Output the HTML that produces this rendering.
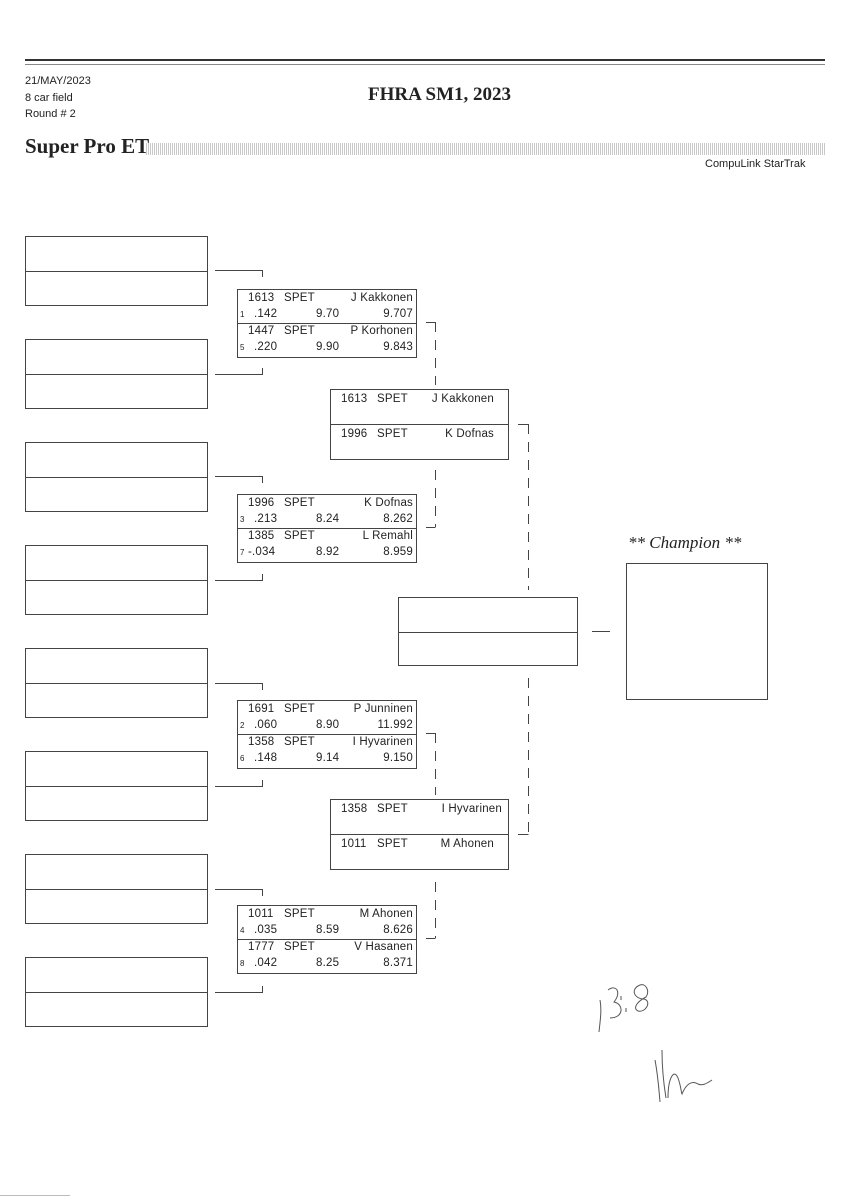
<!DOCTYPE html>
<html><head><meta charset="utf-8"><style>
body{margin:0;background:#fff;}
#p{position:relative;width:848px;height:1200px;overflow:hidden;background:#fff;font-family:"Liberation Sans",sans-serif;color:#222;}
.a{position:absolute;}
.bx{position:absolute;border:1px solid #444;box-sizing:border-box;}
.dv{position:absolute;left:0;right:0;border-top:1px solid #444;}
.r{position:absolute;font-size:11.5px;line-height:16px;white-space:nowrap;letter-spacing:0.2px;}
.s{position:absolute;font-size:8px;line-height:16px;}
</style></head><body><div id="p">
<div class="a" style="left:25px;top:59px;width:800px;height:2px;background:#333;"></div>
<div class="a" style="left:25px;top:64px;width:800px;height:1px;background:#888;"></div>
<div class="a" style="left:25px;top:73px;font-size:11px;line-height:16.5px;">21/MAY/2023<br>8 car field<br>Round # 2</div>
<div class="a" style="left:368px;top:84px;font:bold 19px 'Liberation Serif',serif;">FHRA SM1, 2023</div>
<div class="a" style="left:25px;top:134px;font:bold 21px 'Liberation Serif',serif;">Super Pro ET</div>
<div class="a" style="left:146px;top:143px;width:679px;height:12px;background:repeating-linear-gradient(90deg,#bbb 0 1px,#fff 1px 2px);opacity:0.8;"></div>
<div class="a" style="left:705px;top:158px;font-size:11px;">CompuLink StarTrak</div>

<!-- left boxes -->
<div class="bx" style="left:25px;top:236px;width:183px;height:70px;"><div class="dv" style="top:34px"></div></div>
<div class="bx" style="left:25px;top:339px;width:183px;height:70px;"><div class="dv" style="top:34px"></div></div>
<div class="bx" style="left:25px;top:442px;width:183px;height:70px;"><div class="dv" style="top:34px"></div></div>
<div class="bx" style="left:25px;top:545px;width:183px;height:70px;"><div class="dv" style="top:34px"></div></div>
<div class="bx" style="left:25px;top:648px;width:183px;height:70px;"><div class="dv" style="top:34px"></div></div>
<div class="bx" style="left:25px;top:751px;width:183px;height:70px;"><div class="dv" style="top:34px"></div></div>
<div class="bx" style="left:25px;top:854px;width:183px;height:70px;"><div class="dv" style="top:34px"></div></div>
<div class="bx" style="left:25px;top:957px;width:183px;height:70px;"><div class="dv" style="top:34px"></div></div>

<!-- R1 boxes -->
<div class="bx" style="left:237px;top:289px;width:180px;height:69px;"><div class="dv" style="top:33px"></div>
<span class="r" style="left:10px;top:0">1613</span><span class="r" style="left:46px;top:0">SPET</span><span class="r" style="right:3px;top:0">J Kakkonen</span>
<span class="s" style="left:2px;top:17px">1</span><span class="r" style="left:16px;top:16px">.142</span><span class="r" style="left:78px;top:16px">9.70</span><span class="r" style="right:3px;top:16px">9.707</span>
<span class="r" style="left:10px;top:33px">1447</span><span class="r" style="left:46px;top:33px">SPET</span><span class="r" style="right:3px;top:33px">P Korhonen</span>
<span class="s" style="left:2px;top:50px">5</span><span class="r" style="left:16px;top:49px">.220</span><span class="r" style="left:78px;top:49px">9.90</span><span class="r" style="right:3px;top:49px">9.843</span></div>

<div class="bx" style="left:237px;top:494px;width:180px;height:69px;"><div class="dv" style="top:33px"></div>
<span class="r" style="left:10px;top:0">1996</span><span class="r" style="left:46px;top:0">SPET</span><span class="r" style="right:3px;top:0">K Dofnas</span>
<span class="s" style="left:2px;top:17px">3</span><span class="r" style="left:16px;top:16px">.213</span><span class="r" style="left:78px;top:16px">8.24</span><span class="r" style="right:3px;top:16px">8.262</span>
<span class="r" style="left:10px;top:33px">1385</span><span class="r" style="left:46px;top:33px">SPET</span><span class="r" style="right:3px;top:33px">L Remahl</span>
<span class="s" style="left:2px;top:50px">7</span><span class="r" style="left:10px;top:49px">-.034</span><span class="r" style="left:78px;top:49px">8.92</span><span class="r" style="right:3px;top:49px">8.959</span></div>

<div class="bx" style="left:237px;top:700px;width:180px;height:69px;"><div class="dv" style="top:33px"></div>
<span class="r" style="left:10px;top:0">1691</span><span class="r" style="left:46px;top:0">SPET</span><span class="r" style="right:3px;top:0">P Junninen</span>
<span class="s" style="left:2px;top:17px">2</span><span class="r" style="left:16px;top:16px">.060</span><span class="r" style="left:78px;top:16px">8.90</span><span class="r" style="right:3px;top:16px">11.992</span>
<span class="r" style="left:10px;top:33px">1358</span><span class="r" style="left:46px;top:33px">SPET</span><span class="r" style="right:3px;top:33px">I Hyvarinen</span>
<span class="s" style="left:2px;top:50px">6</span><span class="r" style="left:16px;top:49px">.148</span><span class="r" style="left:78px;top:49px">9.14</span><span class="r" style="right:3px;top:49px">9.150</span></div>

<div class="bx" style="left:237px;top:905px;width:180px;height:69px;"><div class="dv" style="top:33px"></div>
<span class="r" style="left:10px;top:0">1011</span><span class="r" style="left:46px;top:0">SPET</span><span class="r" style="right:3px;top:0">M Ahonen</span>
<span class="s" style="left:2px;top:17px">4</span><span class="r" style="left:16px;top:16px">.035</span><span class="r" style="left:78px;top:16px">8.59</span><span class="r" style="right:3px;top:16px">8.626</span>
<span class="r" style="left:10px;top:33px">1777</span><span class="r" style="left:46px;top:33px">SPET</span><span class="r" style="right:3px;top:33px">V Hasanen</span>
<span class="s" style="left:2px;top:50px">8</span><span class="r" style="left:16px;top:49px">.042</span><span class="r" style="left:78px;top:49px">8.25</span><span class="r" style="right:3px;top:49px">8.371</span></div>

<!-- R2 boxes -->
<div class="bx" style="left:330px;top:389px;width:179px;height:71px;"><div class="dv" style="top:34px"></div>
<span class="r" style="left:10px;top:1px">1613</span><span class="r" style="left:46px;top:1px">SPET</span><span class="r" style="right:14px;top:1px">J Kakkonen</span>
<span class="r" style="left:10px;top:36px">1996</span><span class="r" style="left:46px;top:36px">SPET</span><span class="r" style="right:14px;top:36px">K Dofnas</span></div>
<div class="bx" style="left:330px;top:799px;width:179px;height:71px;"><div class="dv" style="top:34px"></div>
<span class="r" style="left:10px;top:1px">1358</span><span class="r" style="left:46px;top:1px">SPET</span><span class="r" style="right:6px;top:1px">I Hyvarinen</span>
<span class="r" style="left:10px;top:36px">1011</span><span class="r" style="left:46px;top:36px">SPET</span><span class="r" style="right:14px;top:36px">M Ahonen</span></div>

<!-- final -->
<div class="bx" style="left:398px;top:597px;width:180px;height:69px;"><div class="dv" style="top:34px"></div></div>
<div class="a" style="left:628px;top:533px;font:italic 17px 'Liberation Serif',serif;">** Champion **</div>
<div class="bx" style="left:626px;top:563px;width:142px;height:137px;"></div>

<svg class="a" style="left:0;top:0" width="848" height="1200">
<g stroke="#444" stroke-width="1" fill="none">
<path d="M215 270.5H262.5V277 M215 374.5H262.5V368 M215 476.5H262.5V483 M215 580.5H262.5V574 M215 683.5H262.5V690 M215 786.5H262.5V780 M215 889.5H262.5V896 M215 992.5H262.5V986"/>
<path d="M426 322.5H435.5 M426 527.5H435.5 M426 733.5H435.5 M426 938.5H435.5 M518 424.5H528.5 M518 834.5H528.5 M592 631.5H610"/>
<g stroke-dasharray="10,8">
<path d="M435.5 322V385 M435.5 470V527 M435.5 733V795 M435.5 882V938 M528.5 424V590 M528.5 678V834"/>
</g>
<path d="M600 1000c2 10 0 22 -1 32 M608 990c8-6 14 2 6 12 c10 2 10 16 -4 16 M621 996v4 M626 1008v4 M640 985c-10 4-6 14 4 14c8 2 2 14-6 12c-6-3 0-10 8-14c4-6 0-14-6-12" stroke="#555"/>
<path d="M655 1060c3 16 4 30 5 42 M662 1050c0 20 2 36 4 48 M668 1098c0-20 6-30 10-20c3 8 3 14 4 16c4-10 10-14 16-10c4 2 8 0 14-4" stroke="#555"/>
</g>
</svg>
<div class="a" style="left:0;top:1195px;width:70px;height:1px;background:#bbb;"></div>
</div></body></html>
